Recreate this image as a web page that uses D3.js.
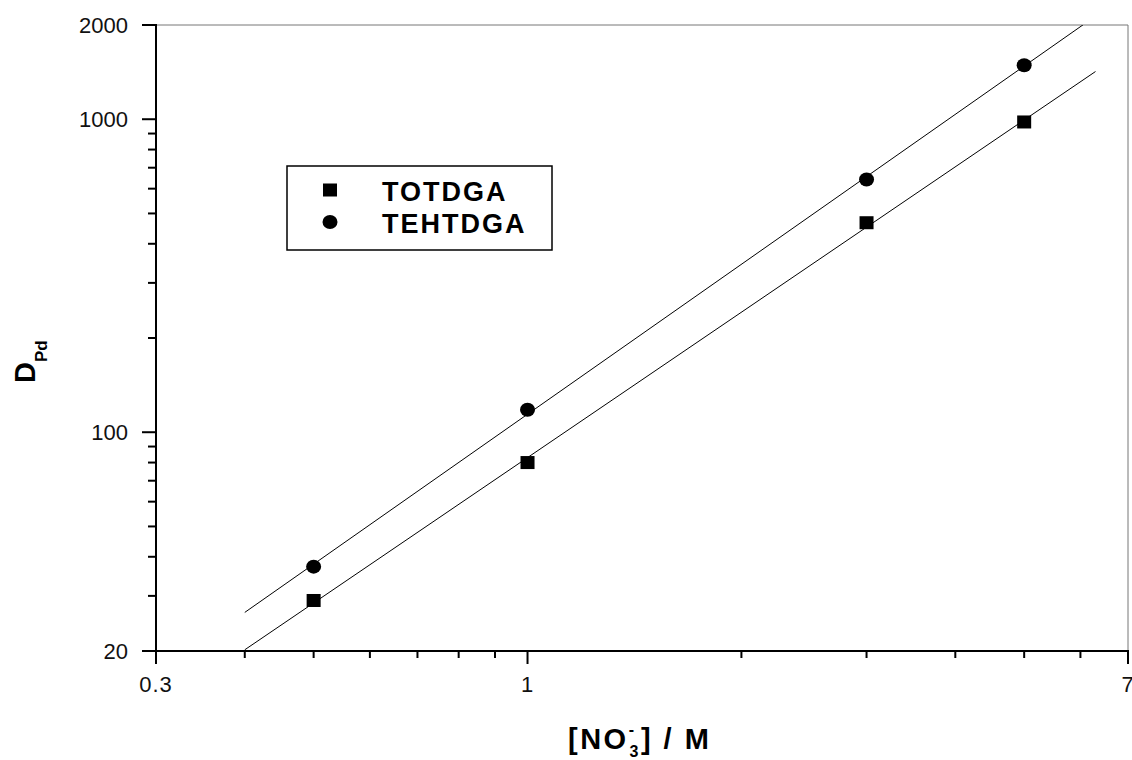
<!DOCTYPE html>
<html>
<head>
<meta charset="utf-8">
<script src="https://cdn.jsdelivr.net/npm/d3@7"></script>
<style>
  body { margin: 0; background: #fff; }
  svg { font-family: "Liberation Sans", Arial, sans-serif; }
</style>
</head>
<body>
<div id="chart"></div>
<script>
// data
var nitrate = [0.5, 1, 3, 5];
var totdga = [29, 80, 467, 980];
var tehtdga = [37.2, 118, 642, 1488];
var fitRange = [0.4, 6.3];

var xMajor = [0.3, 1, 7];
var xMinor = [0.4, 0.5, 0.6, 0.7, 0.8, 0.9, 2, 3, 4, 5, 6];
var yMajor = [20, 100, 1000, 2000];
var yMinor = [30, 40, 50, 60, 70, 80, 90, 200, 300, 400, 500, 600, 700, 800, 900];

var series = [
  { name: "TOTDGA", values: totdga, shape: "square" },
  { name: "TEHTDGA", values: tehtdga, shape: "circle" }
];

function drawChart() {
  var W = 1132, H = 760;
  var pL = 156, pR = 1128, pT = 25, pB = 651;

  var svg = d3.select("#chart").append("svg")
    .attr("width", W)
    .attr("height", H);

  var x = d3.scaleLog().domain([0.3, 7]).range([pL, pR]);
  var y = d3.scaleLog().domain([20, 2000]).range([pB, pT]);

  svg.append("clipPath").attr("id", "plotclip")
    .append("rect")
    .attr("x", pL).attr("y", pT)
    .attr("width", pR - pL).attr("height", pB - pT);

  // frame: thin grey top/right
  svg.append("line")
    .attr("x1", pL).attr("x2", pR).attr("y1", pT).attr("y2", pT)
    .attr("stroke", "#777").attr("stroke-width", 1);
  svg.append("line")
    .attr("x1", pR).attr("x2", pR).attr("y1", pT).attr("y2", pB)
    .attr("stroke", "#777").attr("stroke-width", 1);

  // linear fit in log-log space
  function logFit(xs, ys) {
    var lx = xs.map(Math.log10), ly = ys.map(Math.log10);
    var mx = d3.mean(lx), my = d3.mean(ly);
    var sxy = d3.sum(lx, function(v, i) { return (v - mx) * (ly[i] - my); });
    var sxx = d3.sum(lx, function(v) { return (v - mx) * (v - mx); });
    var b = sxy / sxx, a = my - b * mx;
    return function(v) { return Math.pow(10, a + b * Math.log10(v)); };
  }

  var line = d3.line()
    .x(function(d) { return x(d[0]); })
    .y(function(d) { return y(d[1]); });

  var plot = svg.append("g").attr("clip-path", "url(#plotclip)");

  series.forEach(function(s) {
    var f = logFit(nitrate, s.values);
    plot.append("path")
      .attr("d", line(fitRange.map(function(v) { return [v, f(v)]; })))
      .attr("fill", "none")
      .attr("stroke", "#000")
      .attr("stroke-width", 1);
  });

  function drawMarker(g, shape, cx, cy) {
    if (shape === "square") {
      g.append("rect")
        .attr("x", cx - 7).attr("y", cy - 6.5)
        .attr("width", 14).attr("height", 13)
        .attr("fill", "#000");
    } else {
      g.append("ellipse")
        .attr("cx", cx).attr("cy", cy)
        .attr("rx", 7.5).attr("ry", 7)
        .attr("fill", "#000");
    }
  }

  series.forEach(function(s) {
    nitrate.forEach(function(v, i) {
      drawMarker(svg, s.shape, x(v), y(s.values[i]));
    });
  });

  // axes
  var xAxis = svg.append("g").attr("transform", "translate(0," + pB + ")");
  xAxis.append("line")
    .attr("x1", pL - 1).attr("x2", pR + 1)
    .attr("stroke", "#000").attr("stroke-width", 2);
  xAxis.selectAll(".maj").data(xMajor).enter().append("line")
    .attr("x1", function(d) { return x(d); }).attr("x2", function(d) { return x(d); })
    .attr("y1", 0).attr("y2", 13)
    .attr("stroke", "#000").attr("stroke-width", 2);
  xAxis.selectAll(".min").data(xMinor).enter().append("line")
    .attr("x1", function(d) { return x(d); }).attr("x2", function(d) { return x(d); })
    .attr("y1", 0).attr("y2", 7)
    .attr("stroke", "#000").attr("stroke-width", 2);
  xAxis.selectAll(".lab").data(xMajor).enter().append("text")
    .attr("x", function(d) { return x(d); })
    .attr("y", 41)
    .attr("text-anchor", "middle")
    .attr("font-size", "22px")
    .attr("letter-spacing", 1)
    .attr("fill", "#111")
    .text(function(d) { return d; });

  var yAxis = svg.append("g").attr("transform", "translate(" + pL + ",0)");
  yAxis.append("line")
    .attr("y1", pT - 1).attr("y2", pB + 1)
    .attr("stroke", "#000").attr("stroke-width", 2);
  yAxis.selectAll(".maj").data(yMajor).enter().append("line")
    .attr("y1", function(d) { return y(d); }).attr("y2", function(d) { return y(d); })
    .attr("x1", 0).attr("x2", -14)
    .attr("stroke", "#000").attr("stroke-width", 2);
  yAxis.selectAll(".min").data(yMinor).enter().append("line")
    .attr("y1", function(d) { return y(d); }).attr("y2", function(d) { return y(d); })
    .attr("x1", 0).attr("x2", -8)
    .attr("stroke", "#000").attr("stroke-width", 2);
  yAxis.selectAll(".lab").data(yMajor).enter().append("text")
    .attr("x", -28)
    .attr("y", function(d) { return y(d); })
    .attr("dy", "0.36em")
    .attr("text-anchor", "end")
    .attr("font-size", "22px")
    .attr("fill", "#111")
    .text(function(d) { return d; });

  // axis titles
  var xt = svg.append("text")
    .attr("x", 568).attr("y", 749)
    .attr("font-size", "29px").attr("font-weight", "bold")
    .attr("letter-spacing", 2.5);
  xt.append("tspan").text("[NO");
  xt.append("tspan").attr("font-size", "16px").attr("dy", -14).text("-");
  xt.append("tspan").attr("font-size", "16px").attr("dx", -7).attr("dy", 22).text("3");
  xt.append("tspan").attr("dy", -8).text("] / M");

  var yt = svg.append("text")
    .attr("transform", "translate(35,383) rotate(-90)")
    .attr("font-size", "29px").attr("font-weight", "bold");
  yt.append("tspan").text("D");
  yt.append("tspan").attr("font-size", "17px").attr("dy", 12).text("Pd");

  // legend
  var legend = svg.append("g");
  legend.append("rect")
    .attr("x", 287).attr("y", 166)
    .attr("width", 265).attr("height", 84)
    .attr("fill", "#fff")
    .attr("stroke", "#000").attr("stroke-width", 1.5);
  series.forEach(function(s, i) {
    var cy = 190 + i * 32;
    drawMarker(legend, s.shape, 330, cy);
    legend.append("text")
      .attr("x", 382).attr("y", cy + 11)
      .attr("font-size", "27px").attr("font-weight", "bold")
      .attr("letter-spacing", 2)
      .text(s.name);
  });
}

drawChart();
</script>
</body>
</html>
